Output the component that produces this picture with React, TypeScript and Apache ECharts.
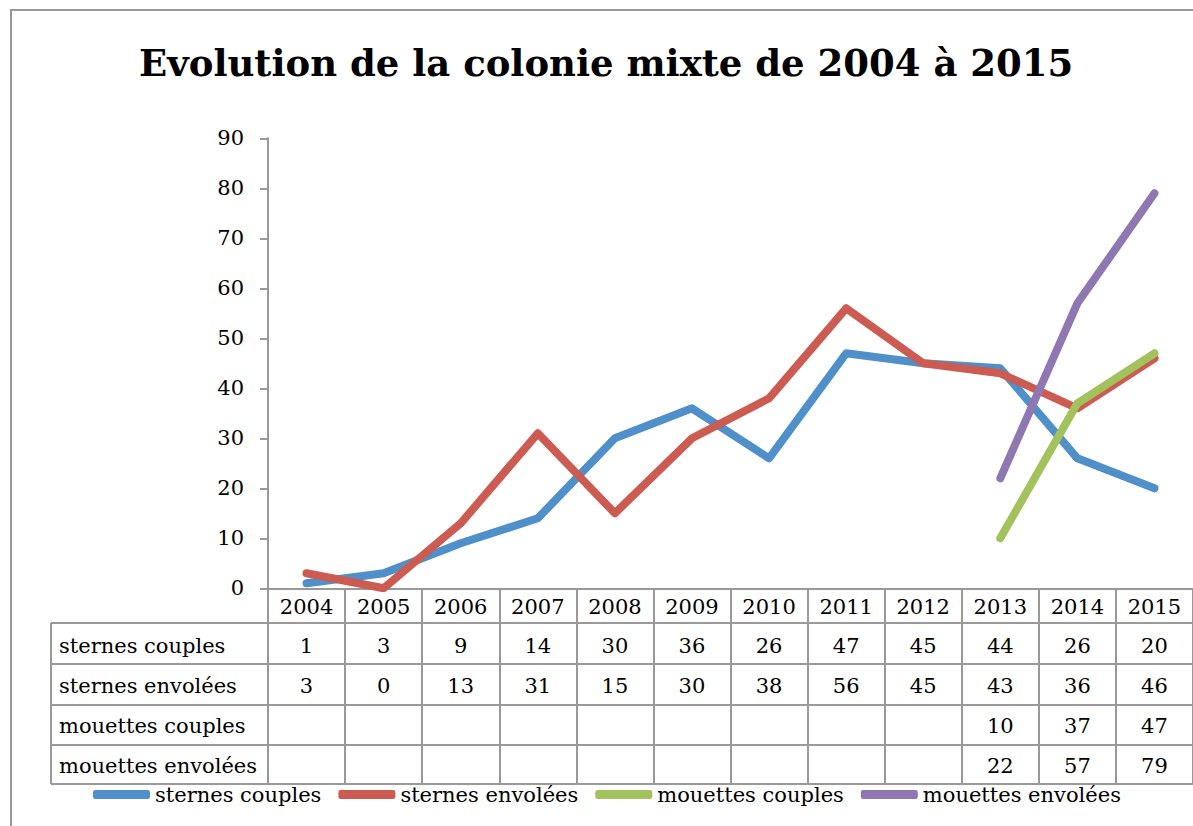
import React, { useEffect, useRef } from "react";
import * as echarts from "echarts";

const years = ["2004", "2005", "2006", "2007", "2008", "2009", "2010", "2011", "2012", "2013", "2014", "2015"];
const seriesNames = ["sternes couples", "sternes envolées", "mouettes couples", "mouettes envolées"];
const sternesCouples: (number | null)[] = [1, 3, 9, 14, 30, 36, 26, 47, 45, 44, 26, 20];
const sternesEnvolees: (number | null)[] = [3, 0, 13, 31, 15, 30, 38, 56, 45, 43, 36, 46];
const mouettesCouples: (number | null)[] = [null, null, null, null, null, null, null, null, null, 10, 37, 47];
const mouettesEnvolees: (number | null)[] = [null, null, null, null, null, null, null, null, null, 22, 57, 79];
const seriesColors = ["#4F8FCA", "#CC5B52", "#A2C35C", "#8F78B2"];
const titleText = "Evolution de la colonie mixte de 2004 à 2015";

const FONT = "'DejaVu Serif', serif";
const GRAY = "#999999";
const FS = 21;

export default function App() {
  const ref = useRef<HTMLDivElement>(null);
  useEffect(() => {
    if (!ref.current) return;
    const chart = echarts.init(ref.current, undefined, { renderer: "svg" });
    const allData = [sternesCouples, sternesEnvolees, mouettesCouples, mouettesEnvolees];
    const gridLeft = 268;
    const gridTop = 138.3;
    const gridW = 931;
    const gridH = 450;
    const rowLines = [623, 664, 705, 745, 784];
    const rowCenters = [646, 686, 726, 766];

    chart.setOption({
      animation: false,
      backgroundColor: "#ffffff",
      title: {
        text: titleText,
        left: 139,
        top: 44,
        padding: 0,
        textStyle: { fontFamily: FONT, fontWeight: "bold", fontSize: 37, color: "#000" },
      },
      legend: {
        left: 93,
        top: 784,
        padding: 0,
        itemWidth: 57,
        itemHeight: 9,
        itemGap: 17,
        icon: "roundRect",
        data: seriesNames,
        textStyle: { fontFamily: FONT, fontSize: FS, color: "#000" },
      },
      grid: { left: gridLeft, top: gridTop, width: gridW, height: gridH },
      xAxis: {
        type: "category",
        data: years,
        boundaryGap: true,
        axisLine: { show: true, lineStyle: { color: GRAY, width: 2 } },
        axisTick: { show: true, interval: 0, length: 784 - (gridTop + gridH), lineStyle: { color: GRAY, width: 2 } },
        axisLabel: { interval: 0, margin: 8, fontFamily: FONT, fontSize: FS, color: "#000" },
        splitLine: { show: false },
      },
      yAxis: {
        type: "value",
        min: 0,
        max: 90,
        interval: 10,
        axisLine: { show: true, lineStyle: { color: GRAY, width: 2 } },
        axisTick: { show: true, length: 8, lineStyle: { color: GRAY, width: 2 } },
        axisLabel: { margin: 24, fontFamily: FONT, fontSize: FS, color: "#000" },
        splitLine: { show: false },
      },
      series: seriesNames.map((name, i) => ({
        name,
        type: "line",
        data: allData[i],
        showSymbol: false,
        symbol: "none",
        connectNulls: false,
        color: seriesColors[i],
        lineStyle: { width: 8, color: seriesColors[i], cap: "round", join: "round" },
      })),
    });

    const xs = years.map((y) => chart.convertToPixel({ xAxisIndex: 0 }, y) as number);
    const graphics: any[] = [];
    graphics.push({
      type: "rect",
      shape: { x: 11, y: 10, width: 1300, height: 1000 },
      style: { fill: "none", stroke: GRAY, lineWidth: 2 },
      silent: true,
    });
    rowLines.forEach((y) => {
      graphics.push({
        type: "line",
        shape: { x1: 51, y1: y, x2: 1300, y2: y },
        style: { stroke: GRAY, lineWidth: 2 },
        silent: true,
      });
    });
    graphics.push({
      type: "line",
      shape: { x1: 51, y1: rowLines[0], x2: 51, y2: rowLines[rowLines.length - 1] },
      style: { stroke: GRAY, lineWidth: 2 },
      silent: true,
    });
    seriesNames.forEach((name, r) => {
      graphics.push({
        type: "text",
        x: 59,
        y: rowCenters[r],
        style: { text: name, fontFamily: FONT, fontSize: FS, fill: "#000", verticalAlign: "middle", align: "left" },
        silent: true,
      });
      allData[r].forEach((v, c) => {
        if (v === null) return;
        graphics.push({
          type: "text",
          x: xs[c],
          y: rowCenters[r],
          style: { text: String(v), fontFamily: FONT, fontSize: FS, fill: "#000", verticalAlign: "middle", align: "center" },
          silent: true,
        });
      });
    });
    chart.setOption({ graphic: graphics });

    return () => chart.dispose();
  }, []);
  return <div ref={ref} style={{ position: "absolute", left: 0, top: 0, width: 1193, height: 826 }} />;
}
